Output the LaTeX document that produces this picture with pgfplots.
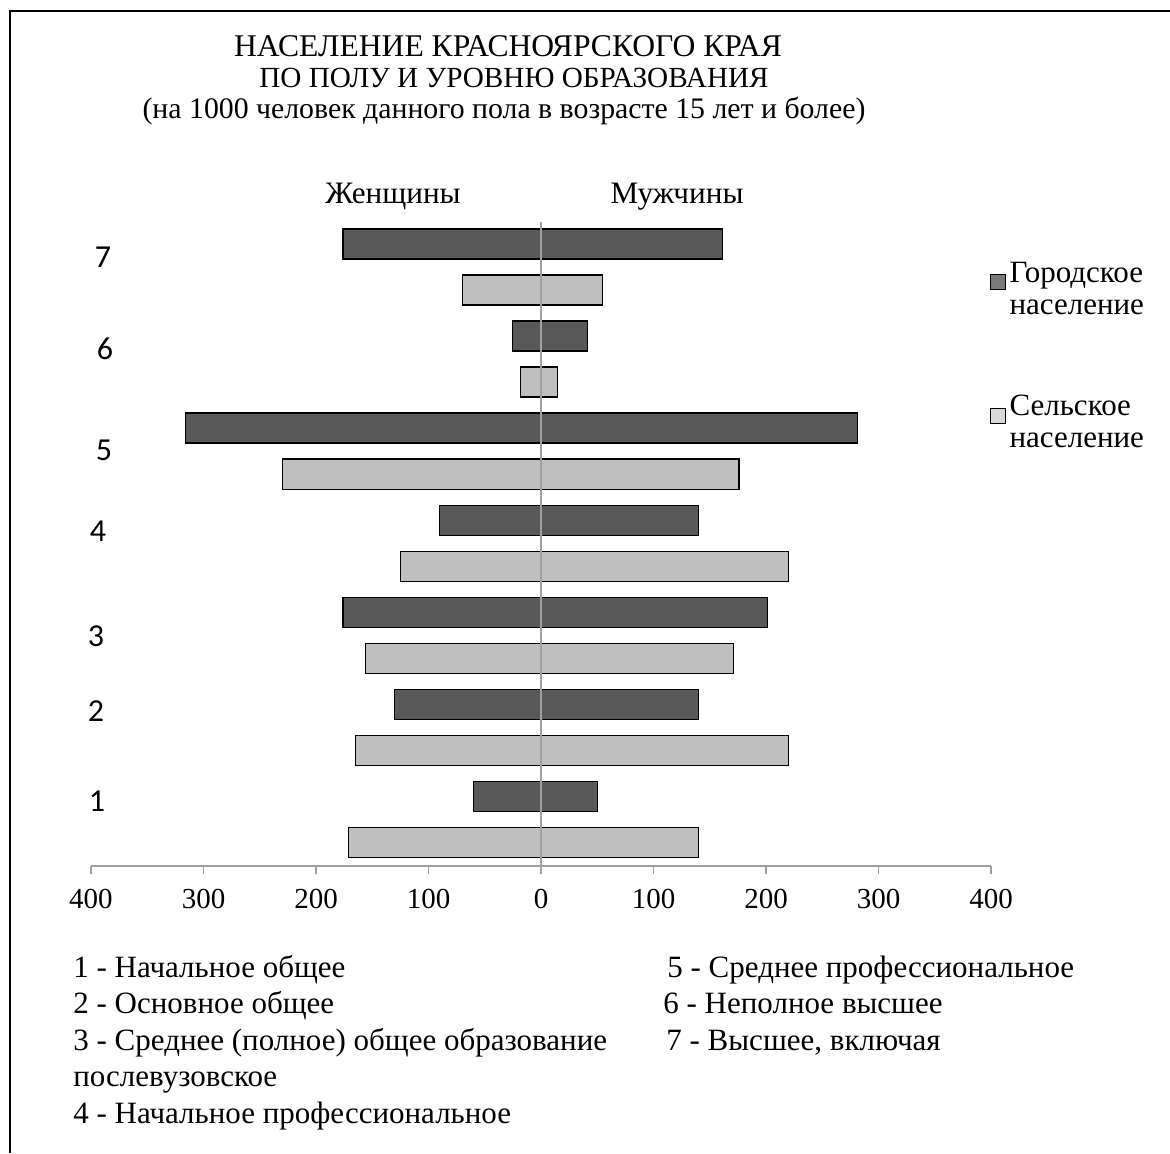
\documentclass[border=0pt]{standalone}
\usepackage{fontspec}
\setmainfont{Liberation Serif}
\newfontfamily\numfont{Carlito}
\usepackage{pgfplots}
\pgfplotsset{compat=1.18}
\definecolor{urban}{RGB}{89,89,89}
\definecolor{rural}{RGB}{191,191,191}
\definecolor{axisgray}{RGB}{160,160,160}
\begin{document}
\begin{tikzpicture}
\useasboundingbox (0,0) rectangle (585pt,-576.5pt);
\draw[line width=1pt] (5pt,-576.5pt) -- (5pt,-5.25pt) -- (585pt,-5.25pt);
\begin{axis}[
  at={(45.5pt,-433pt)}, anchor=south west,
  scale only axis, width=450pt, height=322pt,
  xmin=-400, xmax=400, ymin=-0.52, ymax=13.48,
  axis on top,
  axis x line*=bottom, axis y line*=center,
  axis line style={axisgray, line width=0.8pt},
  xtick={-400,-300,...,400},
  xticklabels={400,300,200,100,0,100,200,300,400},
  ytick=\empty,
  tick align=outside, major tick length=4pt,
  tick style={axisgray, line width=0.6pt},
  xticklabel style={font=\fontsize{14.5}{14.5}\selectfont, yshift=-4pt,
    /pgf/number format/assume math mode=true},
  legend style={at={(0.9915,0.951)}, anchor=north west, draw=none, fill=none,
    font=\fontsize{15.5}{16}\selectfont, cells={anchor=west, align=left}, row sep=35pt},
]
% городское население: мужчины (+) и женщины (-)
\addplot[xbar, bar width=15pt, bar shift=0pt, fill=urban, draw=black, line width=0.6pt,
  legend image code/.code={\draw[fill=urban!80!white, draw=black, line width=0.4pt] (-2pt,0pt) rectangle (5.5pt,7.5pt);}]
  coordinates {(161,13) (41,11) (281,9) (140,7) (201,5) (140,3) (50,1)};
\addlegendentry{Городское\\население}
\addplot[xbar, bar width=15pt, bar shift=0pt, fill=urban, draw=black, line width=0.6pt, forget plot]
  coordinates {(-176,13) (-25,11) (-316,9) (-90,7) (-176,5) (-130,3) (-60,1)};
% сельское население
\addplot[xbar, bar width=15pt, bar shift=0pt, fill=rural, draw=black, line width=0.6pt,
  legend image code/.code={\draw[fill=rural!60!white, draw=black, line width=0.4pt] (-2pt,0pt) rectangle (5.5pt,7.5pt);}]
  coordinates {(55,12) (15,10) (176,8) (220,6) (171,4) (220,2) (140,0)};
\addlegendentry{Сельское\\население}
\addplot[xbar, bar width=15pt, bar shift=0pt, fill=rural, draw=black, line width=0.6pt, forget plot]
  coordinates {(-70,12) (-18,10) (-230,8) (-125,6) (-156,4) (-165,2) (-171,0)};
\end{axis}
\begin{scope}[x=0.5pt, y=-0.5pt]
  \node[anchor=base, font=\fontsize{15.8}{16}\selectfont] at (508,56) {НАСЕЛЕНИЕ КРАСНОЯРСКОГО КРАЯ};
  \node[anchor=base, font=\fontsize{14.6}{16}\selectfont] at (514,87) {ПО ПОЛУ И УРОВНЮ ОБРАЗОВАНИЯ};
  \node[anchor=base, font=\fontsize{14.9}{16}\selectfont] at (504,118) {(на 1000 человек данного пола в возрасте 15 лет и более)};
  \begin{scope}[font=\fontsize{15.6}{16}\selectfont]
    \node[anchor=base] at (393,203) {Женщины};
    \node[anchor=base] at (677,203) {Мужчины};
  \end{scope}
  \begin{scope}[font=\numfont\fontsize{16}{16}\selectfont]
    \node at (103,257) {7};
    \node at (105,349) {6};
    \node at (104,450) {5};
    \node at (98,531) {4};
    \node at (96,636) {3};
    \node at (96,711) {2};
    \node at (97,801) {1};
  \end{scope}
  \begin{scope}[font=\fontsize{15.5}{16}\selectfont, inner sep=0pt]
    \node[anchor=base west] at (73,977) {1 - Начальное общее};
    \node[anchor=base west] at (73,1013.5) {2 - Основное общее};
    \node[anchor=base west] at (73,1050) {3 - Среднее (полное) общее образование};
    \node[anchor=base west] at (73,1086.5) {послевузовское};
    \node[anchor=base west] at (73,1123) {4 - Начальное профессиональное};
    \node[anchor=base west] at (667,977) {5 - Среднее профессиональное};
    \node[anchor=base west] at (663,1013.5) {6 - Неполное высшее};
    \node[anchor=base west] at (666,1050) {7 - Высшее, включая};
  \end{scope}
\end{scope}
\end{tikzpicture}
\end{document}
